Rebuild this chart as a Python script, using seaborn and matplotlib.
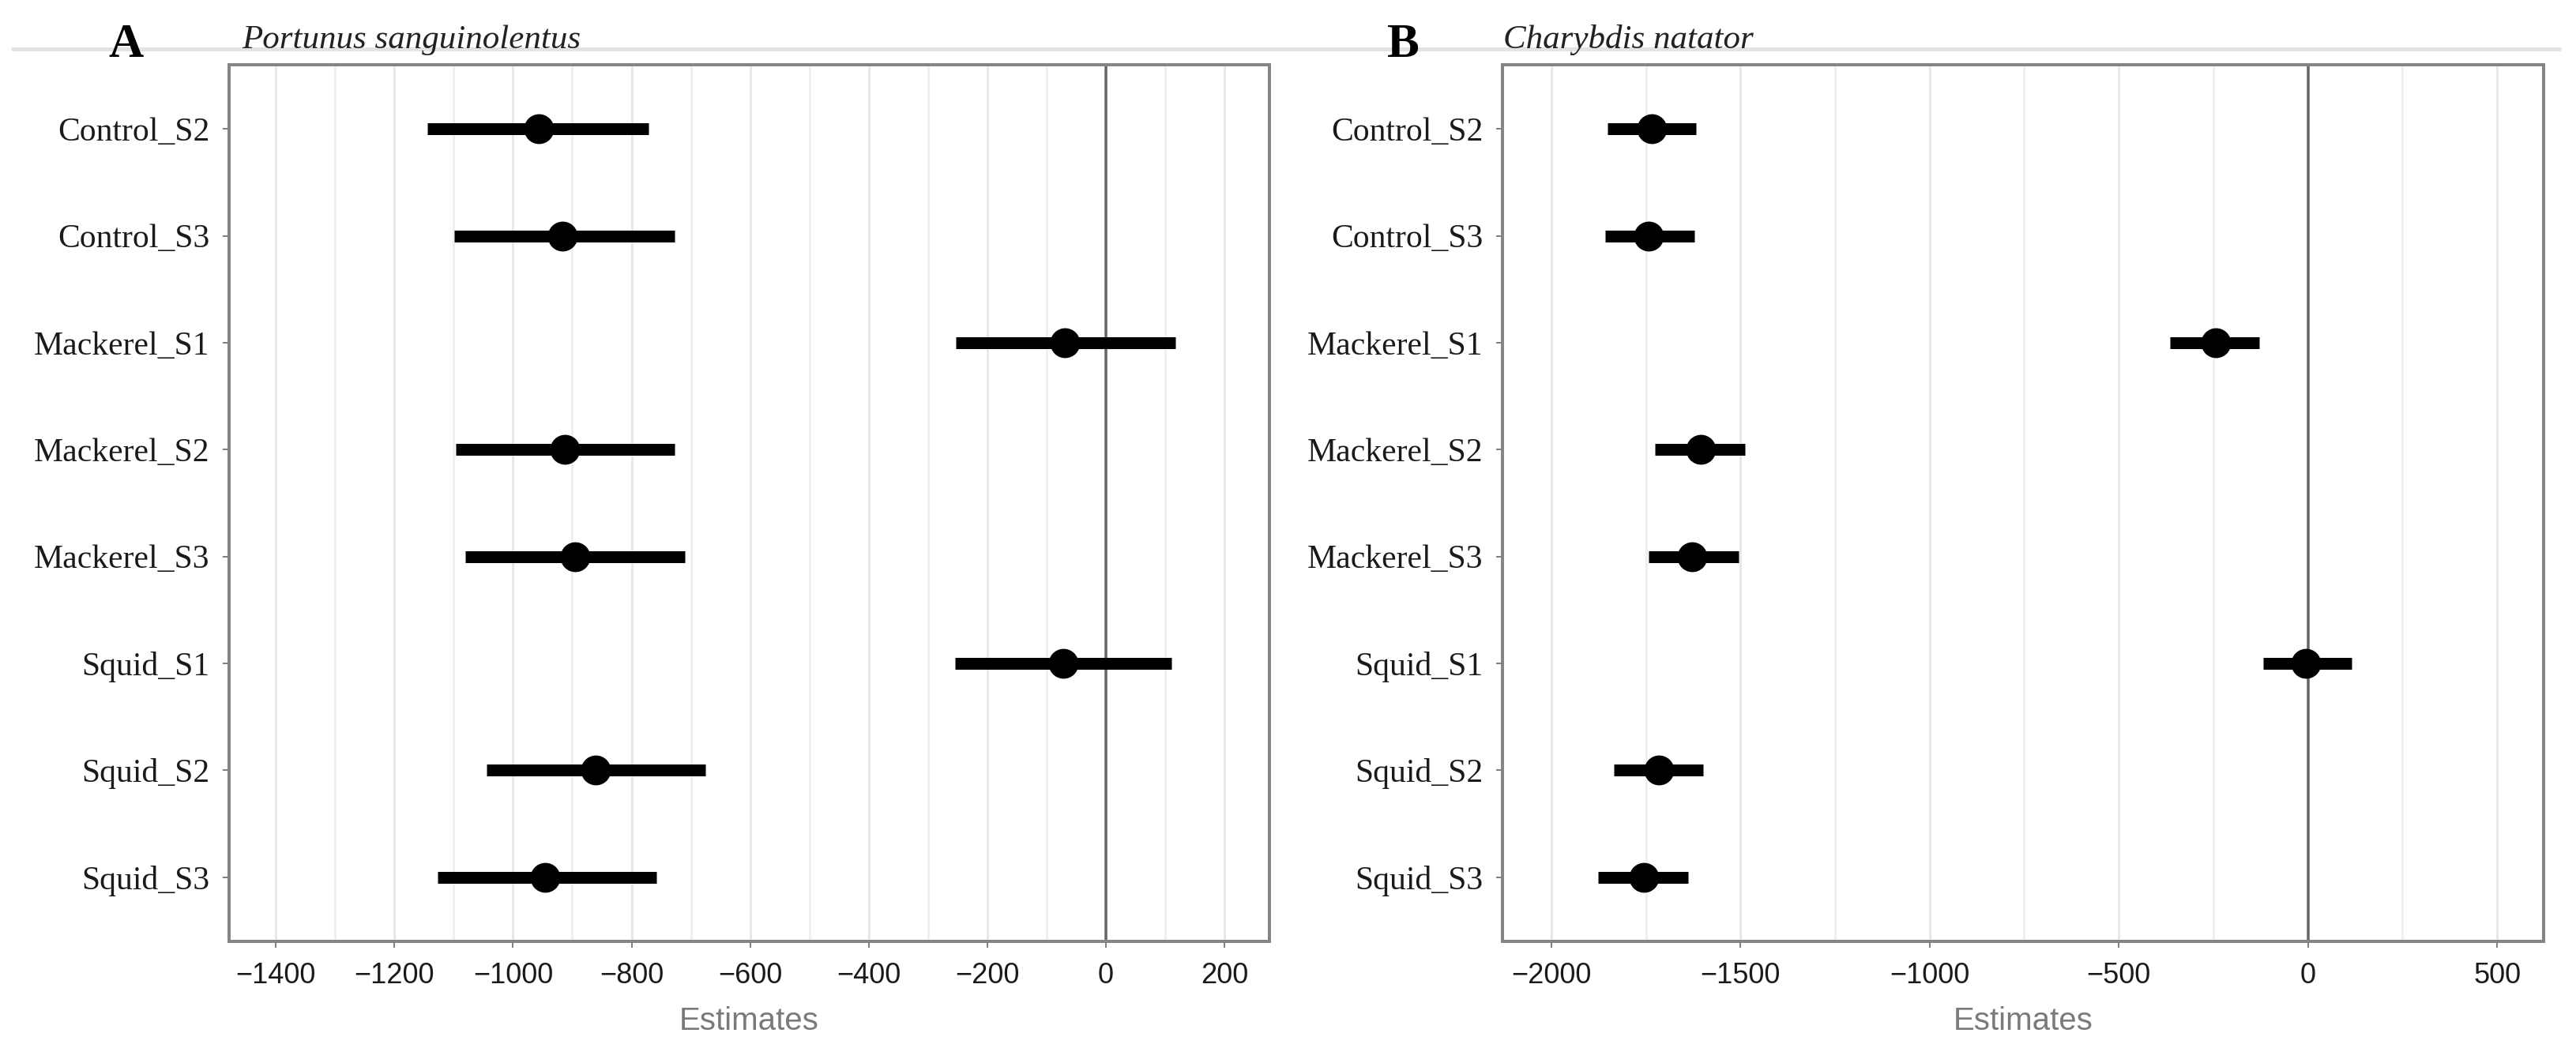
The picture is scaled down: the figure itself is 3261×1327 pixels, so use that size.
import numpy as np
import pandas as pd
import matplotlib
matplotlib.use("Agg")
import matplotlib.pyplot as plt
from matplotlib.lines import Line2D
from matplotlib.ticker import MultipleLocator
import seaborn as sns

# ---------------- data ----------------
categories = ["Control_S2", "Control_S3", "Mackerel_S1", "Mackerel_S2",
              "Mackerel_S3", "Squid_S1", "Squid_S2", "Squid_S3"]

# Panel A: Portunus sanguinolentus
a_est = [-957, -916, -69, -913, -895, -72, -861, -946]
a_low = [-1145, -1099, -253, -1096, -1081, -255, -1044, -1127]
a_high = [-772, -727, 117, -728, -710, 111, -676, -758]

# Panel B: Charybdis natator
b_est = [-1734, -1742, -243, -1604, -1628, -5, -1715, -1755]
b_low = [-1851, -1857, -365, -1726, -1742, -118, -1834, -1876]
b_high = [-1617, -1622, -129, -1488, -1505, 116, -1599, -1639]

a_ticks = [-1400, -1200, -1000, -800, -600, -400, -200, 0, 200]
b_ticks = [-2000, -1500, -1000, -500, 0, 500]

# ---------------- figure ----------------
W, H = 3262, 1327
DPI = 100
sns.set_style("white")
plt.rcParams["font.family"] = ["Liberation Serif", "DejaVu Serif"]

fig = plt.figure(figsize=(W / DPI, H / DPI), dpi=DPI)

px = 0.72  # points per pixel at 100 dpi


def panel(rect, est, low, high, xlim, ticks, minor, letter, title, letter_x, title_x):
    ax = fig.add_axes(rect)
    df = pd.DataFrame({"term": categories, "estimate": est})
    pos = np.arange(len(categories))
    # grid
    ax.set_xlim(*xlim)
    ax.xaxis.set_major_locator(MultipleLocator(ticks[1] - ticks[0]))
    ax.xaxis.set_minor_locator(MultipleLocator(minor))
    ax.grid(True, which="major", axis="both", color="#e8e8e8", lw=3 * px, zorder=0)
    ax.grid(True, which="minor", axis="x", color="#efefef", lw=3 * px, zorder=0)
    ax.set_axisbelow(True)
    ax.axvline(0, color="#666666", lw=3.5 * px, zorder=1)
    # intervals
    ax.hlines(pos, low, high, color="black", lw=15 * px, zorder=3, capstyle="butt")
    # points
    sns.pointplot(data=df, x="estimate", y="term", order=categories, orient="h",
                  errorbar=None, linestyle="none", color="black", markers="o",
                  markersize=35 * px, zorder=4, ax=ax)
    ax.set_xlim(*xlim)
    ax.set_ylim(len(categories) - 0.4, -0.6)
    ax.set_xticks(ticks)
    ax.set_xticklabels([("\u2212" + str(abs(t))) if t < 0 else str(t) for t in ticks],
                       fontfamily="Liberation Sans", fontsize=26, color="#1a1a1a")
    ax.set_yticks(pos)
    ax.set_yticklabels(categories, fontfamily="Liberation Serif", fontsize=30, color="#1a1a1a")
    ax.tick_params(axis="both", which="major", length=8 * px, width=2 * px, color="#7f7f7f",
                   direction="out", bottom=True, left=True)
    ax.tick_params(axis="x", which="major", pad=13)
    ax.tick_params(axis="y", which="major", pad=12)
    ax.tick_params(axis="x", which="minor", length=0)
    ax.set_xlabel("Estimates", fontfamily="Liberation Sans", fontsize=29,
                  color="#7a7a7a", labelpad=15)
    ax.set_ylabel("")
    for s in ax.spines.values():
        s.set_visible(True)
        s.set_color("#858585")
        s.set_linewidth(4 * px)
    fig.text(letter_x / W, 1 - 72 / H, letter, fontfamily="Liberation Serif",
             fontweight="bold", fontsize=44, color="black", va="baseline", ha="left")
    fig.text(title_x / W, 1 - 61 / H, title, fontfamily="Liberation Serif",
             fontstyle="italic", fontsize=31, color="#222222", va="baseline", ha="left")
    return ax


# top rule line behind the panel titles
fig.add_artist(Line2D([16 / W, 3240 / W], [1 - 62 / H, 1 - 62 / H],
                      color="#e3e3e3", lw=5 * px, zorder=0))

axA = panel([290 / W, (H - 1192) / H, 1317 / W, 1110 / H], a_est, a_low, a_high,
            (-1479, 276), a_ticks, 100, "A", "Portunus sanguinolentus", 137, 306)
axB = panel([1902 / W, (H - 1192) / H, 1318 / W, 1110 / H], b_est, b_low, b_high,
            (-2129, 623), b_ticks, 250, "B", "Charybdis natator", 1756, 1903)

fig.savefig("out.png", dpi=DPI, facecolor="white")
